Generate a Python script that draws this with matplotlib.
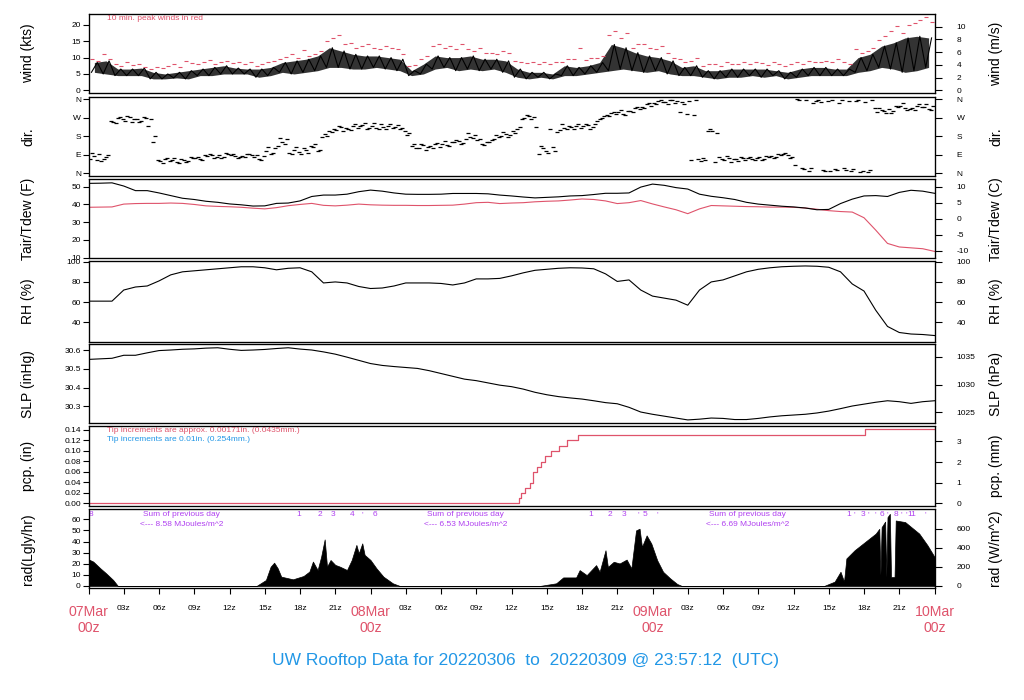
"""
UW Rooftop weather station - 3 day multi-panel plot
"""

import numpy as np
import matplotlib
matplotlib.use('Agg')
import matplotlib.pyplot as plt

plt.rcParams['font.family'] = ['Liberation Sans', 'DejaVu Sans']

RED = '#DF536B'
BLUE = '#2297E6'
PURPLE = '#B041F0'

# ---- data (hours since 07Mar 00z) ----
hours = np.arange(73)
hrs = np.arange(72)

# wind (kts): low / high value in each hour, peaks (10 min) in red
wind_lo = [5.5, 5.0, 4.5, 4.5, 4.5, 3.5, 3.5, 3.8, 3.5, 4.5, 4.5, 5.0, 5.0, 5.0, 4.0, 4.5,
           5.5, 5.0, 5.5, 6.0, 7.0, 7.0, 6.5, 6.5, 7.0, 6.5, 6.0, 4.5, 5.0, 6.5, 7.0, 6.0,
           6.5, 6.0, 6.5, 5.5, 4.0, 3.5, 4.0, 3.5, 4.5, 4.5, 5.0, 5.5, 6.0, 6.5, 6.0, 5.5,
           6.0, 5.0, 4.5, 4.5, 4.0, 3.5, 4.0, 4.0, 4.5, 4.0, 4.5, 3.5, 4.0, 4.5, 4.5, 4.5,
           4.5, 5.5, 6.0, 7.0, 6.5, 5.5, 6.0, 7.0]
wind_hi = [8.5, 9.0, 6.5, 6.5, 6.8, 5.5, 5.0, 5.5, 6.0, 6.5, 7.0, 7.5, 6.8, 6.5, 6.5, 7.0,
           8.5, 9.0, 9.5, 10.5, 13.0, 12.0, 11.0, 10.5, 10.5, 10.0, 9.5, 6.0, 8.0, 10.5, 10.0, 10.0,
           10.5, 9.5, 9.5, 9.0, 6.5, 5.5, 5.5, 5.0, 7.5, 7.0, 7.5, 8.5, 14.0, 13.0, 11.5, 10.5,
           10.0, 9.0, 7.0, 7.5, 6.0, 6.0, 6.5, 6.5, 6.5, 6.5, 6.0, 5.5, 6.5, 7.0, 7.0, 6.5,
           6.5, 10.0, 11.0, 13.5, 14.5, 16.0, 16.5, 16.0]
peak_a = [9.5, 11.0, 8.0, 8.5, 8.0, 6.5, 6.8, 8.0, 9.0, 8.0, 9.2, 8.5, 8.2, 8.0, 7.5, 8.5,
          9.5, 11.0, 12.3, 11.0, 15.0, 17.0, 14.5, 13.5, 13.0, 13.5, 12.5, 7.5, 9.5, 13.5, 13.0, 12.5,
          12.5, 13.0, 11.5, 12.0, 9.0, 8.2, 8.0, 8.0, 8.8, 9.5, 9.2, 10.0, 17.0, 16.0, 13.0, 14.0,
          12.5, 11.5, 9.5, 9.0, 7.5, 8.0, 8.5, 8.0, 8.0, 8.2, 8.5, 7.5, 8.5, 9.0, 8.5, 8.5,
          8.5, 12.5, 12.0, 15.5, 18.0, 17.5, 20.5, 22.5]
peak_b = [9.0, 9.5, 7.5, 7.8, 7.2, 7.0, 7.5, 7.0, 8.2, 8.5, 8.0, 9.0, 8.5, 8.8, 8.0, 9.0,
          10.2, 10.0, 10.5, 12.0, 16.0, 14.0, 13.0, 14.0, 12.5, 12.8, 11.0, 7.8, 10.5, 14.2, 13.5, 14.0,
          12.0, 11.5, 11.0, 11.5, 8.5, 8.8, 8.5, 8.8, 9.5, 13.0, 9.8, 10.5, 18.0, 17.5, 14.0, 13.0,
          13.5, 10.0, 8.5, 10.0, 8.0, 7.5, 8.0, 8.5, 8.5, 7.8, 8.0, 8.0, 8.0, 8.5, 9.0, 9.5,
          8.0, 11.5, 13.0, 16.5, 19.5, 20.0, 21.5, 21.0]

# wind direction (deg), five readings per hour
dir_a = [70, 60, 250, 255, 262, 230, 60, 62, 65, 75, 82, 86, 90, 82, 78, 110,
         130, 100, 95, 125, 190, 210, 215, 228, 230, 226, 225, 185, 120, 130, 140, 150,
         165, 160, 150, 180, 205, 270, 225, 100, 210, 225, 228, 240, 285, 300, 305, 325,
         340, 348, 352, 350, 60, 205, 62, 70, 75, 80, 85, 95, 40, 355, 358, 10,
         355, 20, 345, 300, 315, 330, 318, 322]
dir_b = [85, 80, 268, 275, 255, 150, 70, 55, 60, 68, 90, 80, 84, 92, 70, 95,
         150, 115, 112, 110, 205, 225, 232, 245, 222, 232, 215, 130, 135, 140, 135, 158,
         175, 140, 165, 190, 215, 280, 130, 125, 222, 232, 235, 265, 295, 290, 320, 335,
         350, 355, 345, 285, 65, 195, 75, 80, 68, 70, 78, 88, 355, 25, 15, 20,
         15, 358, 15, 310, 305, 320, 330, 315]
dir_c = [95, 255, 262, 265, 270, 62, 58, 68, 72, 90, 78, 92, 80, 86, 82, 120,
         165, 105, 130, 175, 215, 218, 222, 222, 238, 220, 205, 120, 128, 125, 150, 145,
         185, 150, 175, 185, 265, 275, 110, 200, 230, 220, 225, 280, 290, 305, 312, 330,
         345, 340, 290, 70, 215, 70, 68, 65, 72, 78, 90, 80, 20, 350, 352, 340,
         8, 12, 320, 295, 325, 315, 325, 328]
dir_d = [100, 70, 245, 280, 250, 265, 50, 72, 55, 80, 95, 75, 95, 78, 88, 125,
         170, 95, 120, 140, 180, 230, 210, 235, 245, 215, 235, 195, 140, 120, 155, 160,
         195, 165, 160, 200, 195, 285, 95, 215, 240, 215, 240, 255, 280, 310, 300, 320,
         335, 335, 300, 65, 75, 55, 85, 58, 80, 65, 72, 100, 360, 10, 345, 355,
         25, 350, 5, 320, 295, 340, 310, 335]
dir_e = [65, 90, 275, 250, 275, 180, 75, 50, 78, 62, 72, 98, 72, 95, 65, 100,
         140, 125, 100, 115, 200, 205, 240, 215, 215, 240, 220, 140, 115, 148, 130, 140,
         170, 135, 185, 175, 225, 265, 120, 110, 215, 240, 215, 270, 300, 285, 325, 340,
         355, 358, 335, 355, 205, 80, 55, 75, 62, 85, 95, 75, 25, 340, 8, 15,
         350, 5, 355, 305, 330, 310, 335, 310]

# air temperature and dew point (F), hourly
tair = [51.9, 52.0, 52.2, 50.4, 47.8, 47.8, 46.5, 45.0, 43.5, 42.8, 41.8, 41.2, 40.3, 39.8, 39.1, 39.2,
        40.6, 40.8, 42.0, 44.5, 45.3, 45.3, 45.8, 47.2, 48.1, 47.5, 46.5, 45.8, 45.7, 45.7, 45.8, 46.2,
        46.2, 46.2, 46.0, 45.3, 44.8, 44.2, 43.7, 44.0, 44.3, 44.8, 45.0, 45.6, 46.3, 46.3, 46.5, 49.8,
        51.5, 50.8, 49.5, 48.7, 45.8, 44.6, 43.8, 42.8, 41.2, 40.2, 39.6, 39.0, 38.6, 38.0, 37.0, 37.2,
        40.5, 43.0, 44.8, 45.0, 44.5, 46.8, 48.0, 47.5, 46.3]
tdew = [38.4, 38.5, 38.6, 40.2, 40.5, 40.6, 40.6, 40.8, 40.6, 40.0, 39.2, 38.9, 38.7, 38.4, 37.9, 37.5,
        38.2, 39.3, 40.0, 40.6, 39.5, 39.2, 39.6, 40.2, 39.8, 39.6, 39.5, 39.5, 39.4, 39.4, 39.5, 39.6,
        40.2, 41.0, 41.2, 40.5, 40.8, 41.0, 41.5, 41.8, 42.0, 42.5, 43.1, 42.8, 42.0, 40.5, 41.0, 42.2,
        40.3, 38.6, 37.0, 34.8, 37.5, 39.4, 39.2, 39.0, 38.8, 38.7, 38.5, 38.5, 38.4, 38.0, 37.3, 36.5,
        36.0, 35.7, 32.5, 25.5, 18.0, 16.0, 15.5, 15.0, 13.5]

# relative humidity (%), hourly
rh = [61, 61, 61, 72, 75, 76, 81, 87, 90, 91, 92, 93, 94, 95, 95, 94,
      92, 93.5, 94, 90, 79, 80, 79, 75.5, 73.5, 74, 76, 79, 79, 79, 78.5, 77,
      79, 83, 83, 83.5, 86, 89, 91.5, 92.5, 93.5, 94, 93.8, 93, 88, 80.5, 82, 72,
      66, 64, 62, 57, 72, 80, 82, 86, 90, 92.5, 94, 95, 95.5, 95.8, 95.5, 94.5,
      90, 78, 71, 52, 36, 30, 28.5, 28, 27]

# sea level pressure (inHg), hourly
slp = [30.550, 30.553, 30.556, 30.572, 30.572, 30.585, 30.597, 30.600, 30.604, 30.606, 30.610, 30.612,
       30.604, 30.598, 30.600, 30.603, 30.608, 30.612, 30.605, 30.600, 30.590, 30.578, 30.562, 30.545,
       30.528, 30.518, 30.512, 30.507, 30.502, 30.490, 30.475, 30.460, 30.445, 30.437, 30.425, 30.413,
       30.405, 30.392, 30.375, 30.362, 30.352, 30.345, 30.339, 30.330, 30.320, 30.314, 30.295, 30.270,
       30.258, 30.248, 30.238, 30.228, 30.232, 30.238, 30.236, 30.230, 30.230, 30.236, 30.244, 30.250,
       30.254, 30.258, 30.265, 30.275, 30.288, 30.302, 30.312, 30.322, 30.330, 30.325, 30.316, 30.325,
       30.330]

# accumulated precipitation (in), tipping bucket steps
pcp_hours = [0, 36.62, 36.82, 37.19, 37.59, 37.82, 38.16, 38.53, 38.89, 39.38, 40.03, 40.71, 41.65, 66.1, 72]
pcp_in = [0, 0.0095, 0.0197, 0.030, 0.039, 0.060, 0.070, 0.079, 0.090, 0.100, 0.110, 0.120, 0.130, 0.141, 0.141]

# solar radiation (Langley/hr)
rad_hours = [0, 0.4, 1.0, 1.5, 2.1, 2.5,
             14.3, 15.1, 15.5, 15.8, 16.1, 16.4, 17.4, 18.3, 18.8, 19.1, 19.5, 19.8, 20.1, 20.3,
             20.6, 21.0, 21.4, 22.0, 22.4, 22.8, 23.0, 23.3, 23.5, 24.0, 24.5, 25.1, 25.9, 26.5,
             38.4, 39.8, 40.4, 41.5, 41.8, 42.4, 43.2, 43.5, 44.0, 44.2, 44.7, 45.2, 45.8, 46.2,
             46.6, 46.9, 47.1, 47.5, 47.9, 48.4, 48.9, 49.5, 50.1, 50.5,
             62.6, 63.5, 64.0, 64.3, 64.5, 65.2, 66.1, 67.0, 67.3, 67.4, 67.5, 67.8, 67.9, 68.0,
             68.2, 68.3, 68.6, 68.7, 69.5, 70.7, 71.4, 72]
rad_lgly = [24, 22, 16, 11.4, 5.4, 0,
            0, 5.4, 17.4, 21, 16, 8.4, 6, 9, 13, 22, 14.4, 26.4, 42, 17.4,
            23.4, 19, 17.4, 14.4, 23.4, 37, 29.4, 38.4, 28, 23.4, 16, 8.4, 2.4, 0,
            0, 2.4, 7.7, 7.7, 14.3, 9.8, 18.8, 12.8, 32.2, 17.2, 21.8, 20.3, 23.8, 15.8,
            50.1, 51.6, 35.2, 45.6, 38.2, 23.2, 12.8, 6.9, 1.8, 0,
            0, 3.9, 12.8, 3.9, 24.8, 32.2, 39.7, 47.2, 51.5, 10, 53, 58, 8, 62,
            65, 8, 8, 59, 57.6, 47.2, 36.7, 26.2]

# ---- figure ----
W, H = 1024, 700
X0, X1 = 88.5, 934.5
fig = plt.figure(figsize=(W / 100, H / 100), dpi=100)


def panel(top, bottom, ylim, label):
    ax = fig.add_axes([X0 / W, 1 - bottom / H, (X1 - X0) / W, (bottom - top) / H])
    ax.set_xlim(0, 72)
    ax.set_ylim(*ylim)
    ax.set_xticks([])
    ax.tick_params(axis='y', direction='out', length=4, width=0.8, labelsize=6, pad=1.5)
    for s in ax.spines.values():
        s.set_linewidth(0.9)
    fig.text(28 / W, 1 - (top + bottom) / 2 / H, label, rotation=90,
             ha='center', va='center', fontsize=10)
    return ax


def right_axis(ax, conv, ticks, labels, label, top, bottom):
    tw = ax.twinx()
    lo, hi = ax.get_ylim()
    tw.set_ylim(conv(lo), conv(hi))
    tw.set_yticks(ticks)
    tw.set_yticklabels(labels)
    tw.tick_params(axis='y', direction='out', length=5, width=0.8, labelsize=6, pad=11)
    fig.text(996 / W, 1 - (top + bottom) / 2 / H, label, rotation=90,
             ha='center', va='center', fontsize=10)
    return tw


# wind
ax1 = panel(14, 93.3, (-0.9, 23.3), 'wind (kts)')
wind_t = np.column_stack([hrs + 0.25, hrs + 0.75]).ravel()
wind_v = np.column_stack([wind_lo, wind_hi]).ravel()
ax1.fill_between(hrs + 0.5, wind_lo, wind_hi, color='0.2', lw=0)
ax1.plot(wind_t, wind_v, color='black', lw=0.8)
ax1.plot(hrs + 0.3, peak_a, ls='none', marker='_', ms=3, mew=0.8, color=RED)
ax1.plot(hrs + 0.8, peak_b, ls='none', marker='_', ms=3, mew=0.8, color=RED)
ax1.set_yticks([0, 5, 10, 15, 20])
ax1.text(1.6, 22.0, '10 min. peak winds in red', color=RED, fontsize=6, va='center')
right_axis(ax1, lambda v: v / 1.9438, [0, 2, 4, 6, 8, 10], ['0', '2', '4', '6', '8', '10'],
           'wind (m/s)', 14, 93.3)

# direction
ax2 = panel(96.7, 175.7, (-13, 373), 'dir.')
sub = np.array([0.1, 0.3, 0.5, 0.7, 0.9])
dir_t = (hrs[:, None] + sub).ravel()
dir_v = np.column_stack([dir_a, dir_d, dir_b, dir_e, dir_c]).ravel()
ax2.plot(dir_t, dir_v, ls='none', marker='_', ms=3, mew=0.9, color='black')
dticks = [0, 90, 180, 270, 360]
dlabels = ['N', 'E', 'S', 'W', 'N']
ax2.set_yticks(dticks)
ax2.set_yticklabels(dlabels)
right_axis(ax2, lambda v: v, dticks, dlabels, 'dir.', 96.7, 175.7)

# temperature
ax3 = panel(179.3, 258.3, (9.6, 54.2), 'Tair/Tdew (F)')
ax3.plot(hours, tdew, color=RED, lw=0.8)
ax3.plot(hours, tair, color='black', lw=0.8)
ax3.set_yticks([10, 20, 30, 40, 50])
right_axis(ax3, lambda v: (v - 32) / 1.8, [-10, -5, 0, 5, 10], ['-10', '-5', '0', '5', '10'],
           'Tair/Tdew (C)', 179.3, 258.3)

# humidity
ax4 = panel(260.7, 341.7, (20.9, 101), 'RH (%)')
ax4.plot(hours, rh, color='black', lw=0.8)
ax4.set_yticks([40, 60, 80, 100])
right_axis(ax4, lambda v: v, [40, 60, 80, 100], ['40', '60', '80', '100'],
           'RH (%)', 260.7, 341.7)

# pressure
ax5 = panel(344, 423.3, (30.21, 30.632), 'SLP (inHg)')
ax5.plot(hours, slp, color='black', lw=0.8)
ax5.set_yticks([30.3, 30.4, 30.5, 30.6])
ax5.set_yticklabels(['30.3', '30.4', '30.5', '30.6'])
right_axis(ax5, lambda v: v * 33.8639, [1025, 1030, 1035], ['1025', '1030', '1035'],
           'SLP (hPa)', 344, 423.3)

# precipitation
ax6 = panel(426, 506, (-0.0052, 0.1476), 'pcp. (in)')
ax6.step(pcp_hours, pcp_in, where='post', color=RED, lw=0.9)
ax6.set_yticks([0, 0.02, 0.04, 0.06, 0.08, 0.10, 0.12, 0.14])
ax6.set_yticklabels(['0.00', '0.02', '0.04', '0.06', '0.08', '0.10', '0.12', '0.14'])
ax6.text(1.6, 0.139, 'Tip increments are approx. 0.00171in. (0.0435mm.)', color=RED, fontsize=6, va='center')
ax6.text(1.6, 0.1215, 'Tip increments are 0.01in. (0.254mm.)', color=BLUE, fontsize=6, va='center')
right_axis(ax6, lambda v: v * 25.4, [0, 1, 2, 3], ['0', '1', '2', '3'],
           'pcp. (mm)', 426, 506)

# radiation
ax7 = panel(509.3, 588.3, (-2.1, 69.1), 'rad(Lgly/hr)')
ax7.fill_between(rad_hours, 0, rad_lgly, color='black', lw=0.5)
ax7.set_yticks([0, 10, 20, 30, 40, 50, 60])
right_axis(ax7, lambda v: v * 11.622, [0, 200, 400, 600], ['0', '200', '400', '600'],
           'rad (W/m^2)', 509.3, 588.3)

# radiation annotations (hour marks and daily sums)
marks = [(0.2, '8'), (17.9, '1'), (19.7, '2'), (20.8, '3'), (22.4, '4'), (23.3, "'"), (24.4, '6'),
         (42.7, '1'), (44.4, '2'), (45.6, '3'), (46.8, "'"), (47.4, '5'), (48.4, "'"),
         (64.7, '1'), (65.2, "'"), (65.9, '3'), (66.4, "'"), (67.0, "'"), (67.5, '6'), (68.0, "'"),
         (68.7, '8'), (69.2, "'"), (69.6, "'"), (70.1, '11'), (71.2, "'")]
for h, s in marks:
    ax7.text(h, 64.5, s, color=PURPLE, fontsize=6, ha='center', va='center')
for h, s in [(7.9, '8.58'), (32.1, '6.53'), (56.1, '6.69')]:
    ax7.text(h, 64.5, 'Sum of previous day', color=PURPLE, fontsize=6, ha='center', va='center')
    ax7.text(h, 55.3, '<--- ' + s + ' MJoules/m^2', color=PURPLE, fontsize=6, ha='center', va='center')

# time axis
xt = np.arange(0, 73, 3)
days = {0: '07Mar', 24: '08Mar', 48: '09Mar', 72: '10Mar'}
ax7.set_xticks(xt)
ax7.set_xticklabels([days[h] + '\n00z' if h in days else '%02dz' % (h % 24) for h in xt])
ax7.tick_params(axis='x', direction='out', length=4, width=0.8, labelsize=6, pad=8)
for h, lab in zip(xt, ax7.get_xticklabels()):
    if h in days:
        lab.set_color(RED)
        lab.set_fontsize(10.2)
        lab.set_linespacing(1.2)

fig.text(526 / W, 1 - 660 / H, 'UW Rooftop Data for 20220306  to  20220309 @ 23:57:12  (UTC)',
         color=BLUE, fontsize=12.5, ha='center', va='center')

fig.savefig('out.png', dpi=100)
